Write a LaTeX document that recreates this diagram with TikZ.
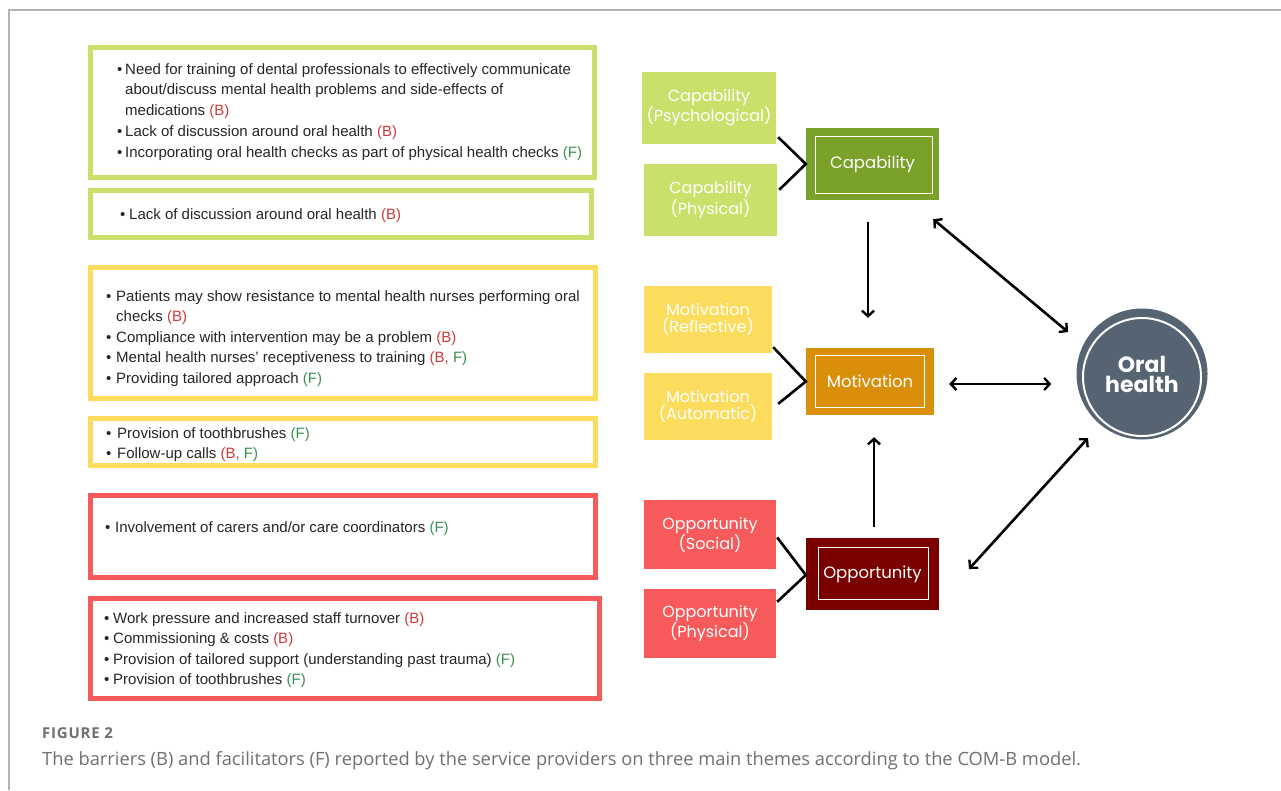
\documentclass[tikz,border=0pt]{standalone}
\usepackage{fontspec}
\setmainfont{Liberation Sans}
\newfontfamily\lf{Liberation Sans}
\newfontfamily\pf{Poppins}
\newfontfamily\cf{Open Sans}
\newfontfamily\cfs[LetterSpace=5]{Open Sans}
\usetikzlibrary{arrows.meta}
\definecolor{lime}{HTML}{C9E06B}
\definecolor{ylw}{HTML}{FCDC5C}
\definecolor{rd}{HTML}{F75A5A}
\definecolor{capd}{HTML}{7AA12A}
\definecolor{motd}{HTML}{D98F0A}
\definecolor{oppd}{HTML}{7A0000}
\definecolor{oral}{HTML}{566373}
\definecolor{bred}{HTML}{D0393B}
\definecolor{fgrn}{HTML}{3A9050}
\definecolor{capgray}{HTML}{707070}
\newcommand\BB{{\color{bred}(B)}}
\newcommand\FF{{\color{fgrn}(F)}}
\newcommand\BF{{\color{bred}(B, }{\color{fgrn}F)}}
\newcommand\itm[5]{\node[txt] (#1) at (#2,#4) {\makebox[#3pt][l]{\textbullet}#5};}
\begin{document}
\begin{tikzpicture}[x=1pt,y=-1pt,
  lbox/.style={draw=#1, line width=5pt, fill=white, inner sep=0, anchor=center},
  txt/.style={anchor=base west, inner sep=0, font=\lf\fontsize{15}{18}\selectfont, text=black!85},
  sbox/.style={fill=#1, text=white, inner sep=0, align=center, font=\pf\fontsize{16}{17.5}\selectfont},
  mbox/.style={fill=#1, text=white, inner sep=0, align=center, font=\pf\fontsize{16.5}{18}\selectfont},
  inner/.style={draw=white, line width=1.3pt},
  conn/.style={line width=2.6pt, black},
  arr/.style={line width=2.6pt, black, -{Straight Barb[length=5.5pt,width=12pt,line width=2.4pt]}},
  darr/.style={line width=2.6pt, black, {Straight Barb[length=5.5pt,width=12pt,line width=2.4pt]}-{Straight Barb[length=5.5pt,width=12pt,line width=2.4pt]}}
]
\useasboundingbox (0,0) rectangle (1281,790);
\fill[white] (0,0) rectangle (1281,790);
\draw[black!30, line width=1.5pt] (1281,10) -- (9,10) -- (9,790);

% left boxes
\node[lbox=lime, minimum width=504pt, minimum height=130pt] (b1) at (342.5,112.5) {};
\node[lbox=lime, minimum width=501pt, minimum height=47pt] (b2) at (341,214) {};
\node[lbox=ylw, minimum width=505pt, minimum height=131pt] (b3) at (343,333) {};
\node[lbox=ylw, minimum width=505pt, minimum height=47pt] (b4) at (343,442) {};
\node[lbox=rd, minimum width=505pt, minimum height=82pt] (b5) at (343,536.5) {};
\node[lbox=rd, minimum width=509pt, minimum height=100pt] (b6) at (345,648.5) {};

% box 1
\itm{t11}{117}{8}{74}{Need for training of dental professionals to effectively communicate}
\node[txt] (t12) at (125,94) {about/discuss mental health problems and side-effects of};
\node[txt] (t13) at (125,115) {medications \BB};
\itm{t14}{117}{8}{136}{Lack of discussion around oral health \BB}
\itm{t15}{117}{8}{157}{Incorporating oral health checks as part of physical health checks \FF}
% box 2
\itm{t21}{120}{9}{219}{Lack of discussion around oral health \BB}
% box 3
\itm{t31}{106}{10}{301}{Patients may show resistance to mental health nurses performing oral}
\node[txt] (t32) at (116,321) {checks \BB};
\itm{t33}{106}{10}{342}{Compliance with intervention may be a problem \BB}
\itm{t34}{106}{10}{362}{Mental health nurses’ receptiveness to training \BF}
\itm{t35}{106}{10}{383}{Providing tailored approach \FF}
% box 4
\itm{t41}{106}{11}{438}{Provision of toothbrushes \FF}
\itm{t42}{106}{11}{458}{Follow-up calls \BF}
% box 5
\itm{t51}{105}{10}{532}{Involvement of carers and/or care coordinators \FF}
% box 6
\itm{t61}{104}{9}{623}{Work pressure and increased staff turnover \BB}
\itm{t62}{104}{9}{643}{Commissioning \& costs \BB}
\itm{t63}{104}{9}{664}{Provision of tailored support (understanding past trauma) \FF}
\itm{t64}{104}{9}{684}{Provision of toothbrushes \FF}

% right side: sub boxes
\node[sbox=lime, minimum width=134pt, minimum height=72pt] (cps) at (709,108) {Capability\\(Psychological)};
\node[sbox=lime, minimum width=133pt, minimum height=72pt] (cph) at (710.5,200) {Capability\\(Physical)};
\node[sbox=ylw, minimum width=128pt, minimum height=67pt] (mrf) at (708,319.5) {Motivation\\(Reflective)};
\node[sbox=ylw, minimum width=128pt, minimum height=67pt] (mau) at (708,406.5) {Motivation\\(Automatic)};
\node[sbox=rd, minimum width=132pt, minimum height=69pt] (osc) at (710,534.5) {Opportunity\\(Social)};
\node[sbox=rd, minimum width=132pt, minimum height=69pt] (oph) at (710,623.5) {Opportunity\\(Physical)};

% main boxes
\node[mbox=capd, minimum width=133pt, minimum height=72pt] (cap) at (872.5,164) {Capability};
\draw[inner] ([shift={(10,9)}]cap.north west) rectangle ([shift={(-7,-7)}]cap.south east);
\node[mbox=motd, minimum width=128pt, minimum height=67pt] (mot) at (870,381.5) {Motivation};
\draw[inner] ([shift={(10,8)}]mot.north west) rectangle ([shift={(-10,-8)}]mot.south east);
\node[mbox=oppd, minimum width=133pt, minimum height=72pt] (opp) at (872.5,574) {Opportunity};
\draw[inner] ([shift={(13,10)}]opp.north west) rectangle ([shift={(-11,-11)}]opp.south east);

% oral health
\node[circle, fill=oral, minimum size=131pt, inner sep=0, text=white, align=center,
      font=\pf\bfseries\fontsize{22}{20}\selectfont] (oh) at (1142,374) {Oral\\health};
\draw[white, line width=2pt] ([shift={(0,3)}]oh.center) circle (59pt);

% converging connectors
\draw[conn] ([shift={(2,-7)}]cps.south east) -- (cap.west) -- ([shift={(2,26)}]cph.north east);
\draw[conn] ([shift={(1,-6)}]mrf.south east) -- (mot.west) -- ([shift={(6,31)}]mau.north east);
\draw[conn] ([shift={(1,3)}]osc.east) -- ([shift={(0,1)}]opp.west) -- ([shift={(1,13)}]oph.north east);

% arrows
\draw[arr] ([shift={(-4.5,22)}]cap.south) -- ([shift={(-2,-30)}]mot.north);
\draw[arr] ([shift={(1.5,-11)}]opp.north) -- ([shift={(4,22)}]mot.south);
\draw[darr] ([shift={(15,2.5)}]mot.east) -- ([shift={(-25,10)}]oh.west);
\draw[darr] ([shift={(-6,19)}]cap.south east) -- (1068,332);
\draw[darr] (969,569) -- (1088,438);

% caption
\node[anchor=base west, inner sep=0, text=capgray, font=\cfs\bfseries\fontsize{15}{15}\selectfont] (fig) at (42,738) {FIGURE 2};
\node[anchor=base west, inner sep=0, text=capgray, font=\cf\fontsize{18.3}{20}\selectfont] (cap2) at (42,765) {The barriers (B) and facilitators (F) reported by the service providers on three main themes according to the COM-B model.};
\end{tikzpicture}
\end{document}
